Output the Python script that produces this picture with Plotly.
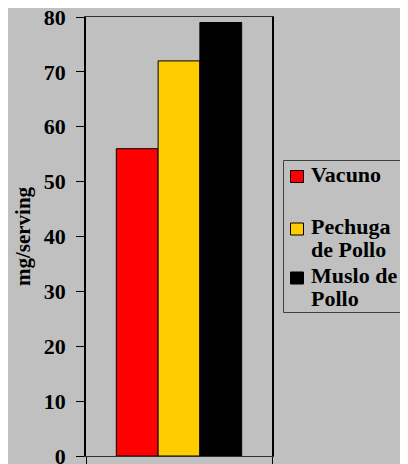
import plotly.graph_objects as go

series = ["Vacuno", "Pechuga\nde Pollo", "Muslo de\nPollo"]
values = [56, 72, 79]
colors = ["#FF0000", "#FFCC00", "#000000"]
y_ticks = [0, 10, 20, 30, 40, 50, 60, 70, 80]

BG = "#C0C0C0"
FAMILY = "Times New Roman, Liberation Serif, serif"

# figure size / plot box (the page adds an 8px body margin round the figure)
W, H = 400, 456
L, R, T, B = 78, 136, 9, 8
PAGE_OFF = 8


def serif(size):
    return dict(family=FAMILY, color="black", size=size)


def px(x):
    """window x pixel -> paper x"""
    return (x - PAGE_OFF - L) / (W - L - R)


def py(y):
    """window y pixel -> paper y"""
    return (H - B - (y - PAGE_OFF)) / (H - T - B)


fig = go.Figure()
for name, val, col in zip(series, values, colors):
    fig.add_trace(go.Bar(
        x=[0], y=[val], name=name.replace("\n", " "),
        marker=dict(color=col, line=dict(color="black", width=1)),
        showlegend=False,
    ))

# legend box drawn by hand so line spacing matches the original
shapes = [dict(type="rect", xref="paper", yref="paper",
               x0=px(283.5), x1=px(412), y0=py(160.5), y1=py(312.5),
               line=dict(color="#404040", width=1), fillcolor=BG, layer="below")]
annotations = []
first_line = [174, 226.5, 275.5]
line_step = 23
for name, col, y0 in zip(series, colors, first_line):
    shapes.append(dict(type="rect", xref="paper", yref="paper",
                       x0=px(290.5), x1=px(303.5), y0=py(y0 - 3.5), y1=py(y0 + 8.5),
                       line=dict(color="black", width=1), fillcolor=col))
    for i, line in enumerate(name.split("\n")):
        annotations.append(dict(
            xref="paper", yref="paper", x=px(309), y=py(y0 + i * line_step),
            xanchor="left", yanchor="middle", text="<b>%s</b>" % line, showarrow=False,
            font=serif(22),
        ))

fig.update_layout(
    width=W, height=H,
    paper_bgcolor=BG, plot_bgcolor=BG,
    margin=dict(l=L, r=R, t=T, b=B, autoexpand=False),
    barmode="group", bargap=0.326, bargroupgap=0,
    font=serif(18),
    shapes=shapes,
    annotations=annotations,
)
fig.update_xaxes(
    range=[-0.5, 0.5], tickvals=[-0.5, 0.5], ticktext=["", ""],
    ticks="outside", ticklen=7, tickcolor="black",
    showline=True, linecolor="#303030", linewidth=1, mirror=True,
    showgrid=False, zeroline=False, fixedrange=True, automargin=False,
)
fig.update_yaxes(
    range=[0, 80], tickvals=y_ticks, ticktext=["<b>%d</b>" % v for v in y_ticks],
    ticks="outside", ticklen=8, tickcolor="black",
    showline=True, linecolor="black", linewidth=1.5, mirror=True,
    showgrid=False, zeroline=False, automargin=False,
    tickfont=serif(22), ticklabelstandoff=6, ticklabeloverflow="allow",
    title=dict(text="<b>mg/serving</b>", font=serif(21), standoff=7),
)

fig.write_html("out.html")
